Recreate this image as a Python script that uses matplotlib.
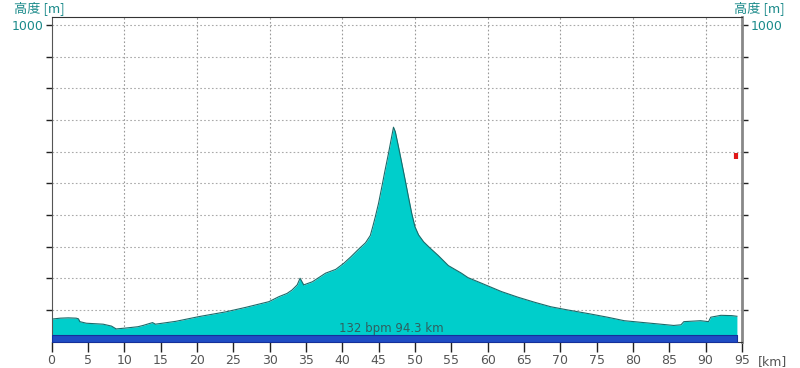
import matplotlib
matplotlib.use("Agg")
import matplotlib.pyplot as plt

plt.rcParams['font.family'] = ['DejaVu Sans', 'Noto Sans CJK JP']

km = [0, 1.2, 2.3, 3.4, 3.7, 3.9, 4.8, 7.1, 8.25, 8.9, 10.3, 11.9, 12.6, 13.9, 14.3,
      17.1, 20.3, 24.0, 26.7, 29.9, 31.3, 32.4, 33.1, 33.8, 34.2, 34.7, 35.9,
      37.7, 39.1, 40.2, 41.2, 42.26, 43.2, 43.86, 44.2, 44.55, 45.0, 45.45, 45.9,
      46.37, 46.8, 47.05, 47.3, 47.74, 48.2, 48.66, 49.1, 49.56, 50.0, 50.5, 51.2,
      52.1, 53.2, 54.6, 56.4, 57.3, 59.2, 61.9, 64.2, 66.5, 68.7, 71.0, 74.2, 76.5,
      78.8, 81.5, 83.8, 85.6, 86.6, 87.0, 89.3, 90.4, 90.7, 92.1, 93.6, 94.3]
elev = [71, 74, 75, 74, 72, 63, 58, 55, 49, 40, 43, 47, 51, 60, 55,
        64, 79, 94, 108, 126, 142, 152, 163, 179, 200, 179, 189,
        216, 228, 247, 268, 292, 312, 335, 363, 394, 437, 489, 542,
        595, 647, 677, 663, 615, 563, 510, 458, 405, 363, 337, 315,
        295, 272, 240, 216, 202, 184, 158, 140, 124, 110, 100, 87, 77,
        66, 60, 55, 51, 53, 63, 66, 63, 77, 83, 82, 80]

total_km = 94.3
band_top = 20
label_text = "132 bpm 94.3 km"
marker_km = 94.2
marker_elev = (576, 596)

x_ticks = list(range(0, 100, 5))
y_ticks = list(range(100, 1001, 100))

fig = plt.figure(figsize=(8, 3.68), dpi=100)
ax = fig.add_axes([51.5/800, 26.4/368, (742-51.5)/800, (341.6-17)/368])
ax.set_xlim(0, 95)
ax.set_ylim(0, 1025)

ax.fill_between(km, 0, elev, color='#00cecb', linewidth=0, zorder=2)
ax.plot(km, elev, color='#1b6a6a', linewidth=0.8, zorder=3)
ax.fill_between([0, total_km], 0, band_top, color='#1f4cc4', edgecolor='#15309a',
                linewidth=0.8, zorder=4)
ax.text(46.8, 40, label_text, ha='center', va='center', fontsize=8.5,
        color='#2f5f5f', zorder=5)
ax.plot([marker_km, marker_km], marker_elev, color='#e01818', linewidth=3,
        solid_capstyle='butt', zorder=5)

ax.set_xticks(x_ticks)
ax.set_xticklabels([str(t) for t in x_ticks], fontsize=9, color='#555555')
ax.set_yticks(y_ticks)
ax.set_yticklabels(['' if t != 1000 else '1000' for t in y_ticks], fontsize=9,
                   color='#1a8a8a')
ax.tick_params(axis='x', direction='out', length=7, width=1, color='#222222', pad=2)
ax.tick_params(axis='y', direction='out', length=4, width=1, color='#222222', pad=2,
               left=True, right=True, labelleft=True, labelright=True)

for t in range(10, 95, 10):
    ax.axvline(t, color='#999999', linestyle=(0, (1.5, 2)), linewidth=0.8, zorder=1)
for t in y_ticks:
    ax.axhline(t, color='#aaaaaa', linestyle=(0, (1.5, 2)), linewidth=0.8, zorder=1)

ax.spines['left'].set_color('#555555')
ax.spines['top'].set_color('#333333')
ax.spines['bottom'].set_color('#333333')
ax.spines['right'].set_color('#888888')
ax.spines['right'].set_linewidth(2)

fig.text(14/800, 1 - 8/368, '高度 [m]', fontsize=9.5, color='#1a8a8a',
         family=['Noto Sans CJK JP', 'DejaVu Sans'], va='center', ha='left')
fig.text(734/800, 1 - 8/368, '高度 [m]', fontsize=9.5, color='#1a8a8a',
         family=['Noto Sans CJK JP', 'DejaVu Sans'], va='center', ha='left')
fig.text(758/800, 1 - 362/368, '[km]', fontsize=9, color='#555555',
         va='center', ha='left')

fig.savefig('out.png', dpi=100)
